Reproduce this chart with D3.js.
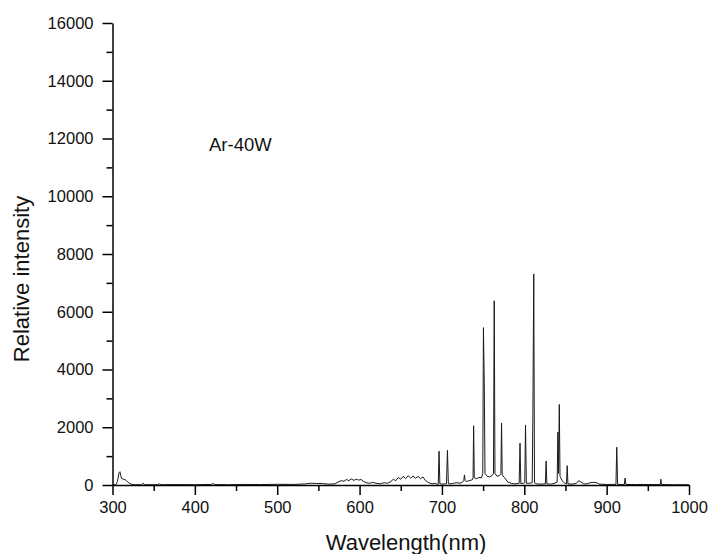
<!DOCTYPE html>
<html>
<head>
<meta charset="utf-8">
<script src="https://cdn.jsdelivr.net/npm/d3@7"></script>
<style>
  html, body { margin: 0; padding: 0; background: #fff; }
  svg { display: block; font-family: "Liberation Sans", Arial, sans-serif; }
</style>
</head>
<body>
<svg id="chart" width="710" height="554"></svg>
<script>
// ---- data ----
const wavelength = [
  300, 304, 306, 308, 309, 310, 311, 313, 315, 317, 319, 321, 324, 328,
  335, 337, 339, 355, 357, 359, 380, 400, 420, 422, 424, 440, 460, 480,
  500, 520, 535, 540, 548, 555, 562, 570, 575, 578, 581, 584, 587, 590,
  593, 596, 599, 602, 605, 608, 612, 616, 620, 625, 630, 634, 638, 641,
  644, 647, 650, 653, 656, 659, 662, 665, 668, 671, 674, 677, 680, 684,
  688, 692, 694, 695.5, 696.5, 697.5, 700, 703, 705.5, 706.7, 707.8, 710,
  714, 718, 722, 725, 726.5, 727.3, 728.2, 730, 734, 737, 737.8, 738.5,
  739.3, 742, 745, 748, 749.6, 750.4, 751.4, 752.3, 755, 758, 761, 762.6,
  763.5, 764.4, 767, 770, 771.6, 772.4, 773.2, 776, 780, 785, 790, 793.8,
  794.8, 795.8, 799, 800.6, 801.5, 802.5, 806, 809.6, 810.4, 811.5, 812.4,
  815, 820, 825.6, 826.5, 827.4, 832, 836, 839.9, 840.8, 841.6, 842.5,
  843.4, 846, 849, 851.2, 852.1, 853, 858, 863, 866, 868, 872, 876, 880,
  884, 888, 891, 900, 911.3, 912.3, 913.3, 918, 921.5, 922.4, 923.3, 935,
  945, 955, 965, 965.8, 966.6, 980, 1000
];
const intensity = [
  0, 10, 120, 430, 460, 330, 230, 200, 190, 150, 90, 50, 20, 10,
  10, 60, 10, 10, 40, 10, 15, 10, 20, 50, 15, 10, 20, 15,
  25, 20, 40, 60, 55, 50, 30, 40, 120, 150, 130, 190, 150, 210,
  160, 200, 170, 190, 120, 80, 60, 90, 60, 40, 80, 60, 120, 200,
  150, 260, 200, 300, 220, 320, 240, 310, 230, 300, 220, 280, 150, 80,
  40, 60, 20, 30, 1170, 40, 30, 40, 40, 1200, 50, 40,
  60, 80, 60, 100, 150, 350, 150, 120, 160, 180, 250, 2050,
  250, 220, 260, 250, 400, 5450, 3500, 400, 300, 280, 330, 400,
  6380, 400, 300, 330, 400, 2140, 350, 250, 100, 50, 40, 60,
  1450, 50, 60, 80, 2080, 60, 60, 80, 2300, 7310, 80,
  40, 30, 40, 830, 40, 30, 50, 100, 1830, 400, 2790,
  300, 150, 60, 40, 670, 40, 30, 50, 150, 120, 40, 40, 80,
  90, 80, 30, 20, 20, 1310, 20, 20, 20, 240, 20, 15,
  20, 15, 15, 200, 15, 10, 10
];
const xTicks = [300, 400, 500, 600, 700, 800, 900, 1000];
const xMinorTicks = [350, 450, 550, 650, 750, 850, 950];
const yTicks = [0, 2000, 4000, 6000, 8000, 10000, 12000, 14000, 16000];
const yMinorTicks = [1000, 3000, 5000, 7000, 9000, 11000, 13000, 15000];
const sampleLabel = "Ar-40W";
const xTitle = "Wavelength(nm)";
const yTitle = "Relative intensity";

// ---- drawing ----
const svg = d3.select("#chart");
const x = d3.scaleLinear().domain([300, 1000]).range([112.5, 689]);
const y = d3.scaleLinear().domain([0, 16000]).range([485, 23]);

const points = wavelength.map((w, i) => [w, intensity[i]]);

// spectrum line
svg.append("path")
  .datum(points)
  .attr("fill", "none")
  .attr("stroke", "#1a1a1a")
  .attr("stroke-width", 1)
  .attr("stroke-linejoin", "round")
  .attr("d", d3.line().x(d => x(d[0])).y(d => y(d[1])));

// minor ticks
svg.append("g")
  .attr("transform", `translate(0,${y(0)})`)
  .call(d3.axisBottom(x).tickValues(xMinorTicks).tickSize(6).tickFormat(""))
  .call(g => g.select(".domain").remove())
  .call(g => g.selectAll("line").attr("stroke", "#000").attr("stroke-width", 1.5));
svg.append("g")
  .attr("transform", `translate(${x(300)},0)`)
  .call(d3.axisLeft(y).tickValues(yMinorTicks).tickSize(6).tickFormat(""))
  .call(g => g.select(".domain").remove())
  .call(g => g.selectAll("line").attr("stroke", "#000").attr("stroke-width", 1.5));

// major axes
const xAxis = svg.append("g")
  .attr("transform", `translate(0,${y(0)})`)
  .call(d3.axisBottom(x).tickValues(xTicks).tickSize(10).tickSizeOuter(0).tickPadding(6).tickFormat(d3.format("d")));
const yAxis = svg.append("g")
  .attr("transform", `translate(${x(300)},0)`)
  .call(d3.axisLeft(y).tickValues(yTicks).tickSize(10).tickSizeOuter(0).tickPadding(9).tickFormat(d3.format("d")));

[xAxis, yAxis].forEach(g => {
  g.select(".domain").attr("stroke", "#000").attr("stroke-width", 1.5);
  g.selectAll(".tick line").attr("stroke", "#000").attr("stroke-width", 1.5);
  g.selectAll(".tick text")
    .attr("font-family", "'Liberation Sans', Arial, sans-serif")
    .attr("font-size", 16.5)
    .attr("fill", "#111");
});

// titles
svg.append("text")
  .attr("x", 406)
  .attr("y", 550)
  .attr("text-anchor", "middle")
  .attr("font-size", 22)
  .attr("fill", "#111")
  .text(xTitle);

svg.append("text")
  .attr("transform", `translate(29,279) rotate(-90)`)
  .attr("text-anchor", "middle")
  .attr("font-size", 22)
  .attr("fill", "#111")
  .text(yTitle);

svg.append("text")
  .attr("x", 209)
  .attr("y", 151)
  .attr("font-size", 18.5)
  .attr("fill", "#111")
  .text(sampleLabel);
</script>
</body>
</html>
